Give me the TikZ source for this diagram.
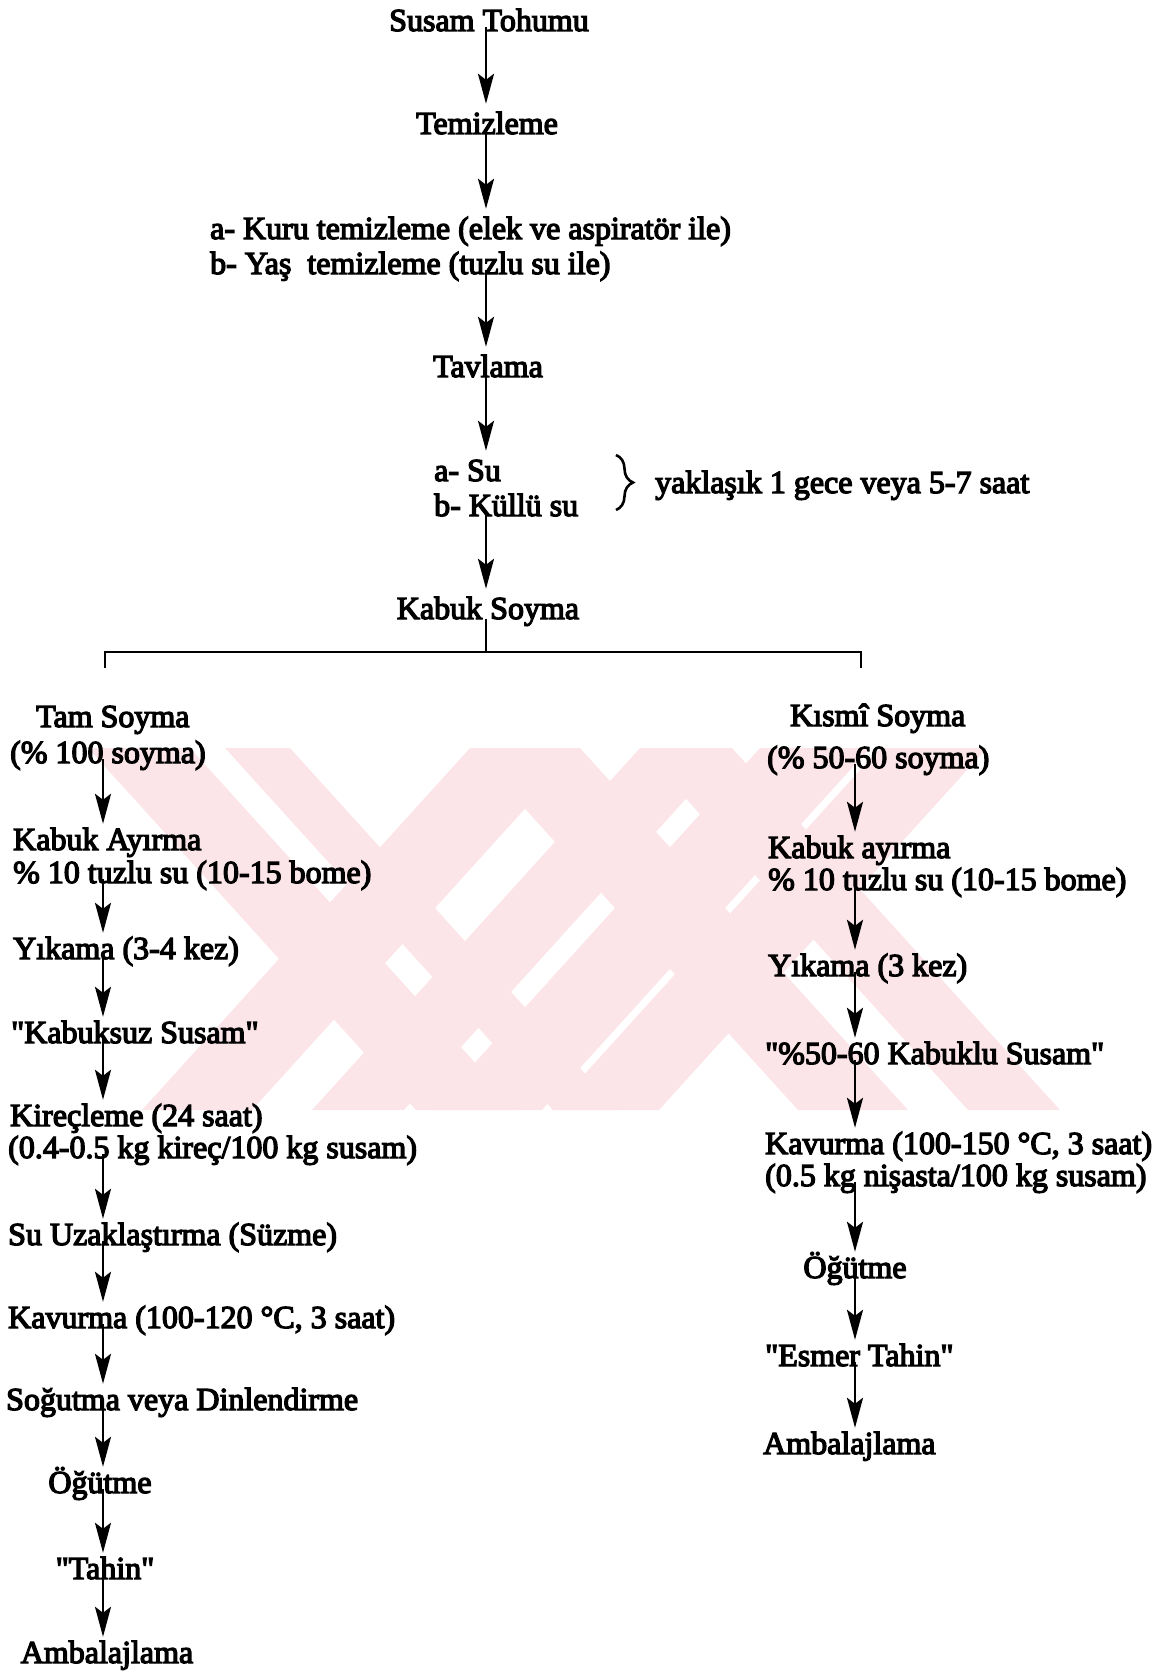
\documentclass[tikz,border=0pt]{standalone}
\usepackage{fontspec}
\setmainfont{Liberation Serif}[FakeBold=4, Ligatures=TeXOff]
\usetikzlibrary{arrows.meta,decorations.pathreplacing}
\definecolor{wm}{RGB}{252,229,233}
\begin{document}
\begin{tikzpicture}[x=1pt,y=-1pt,
  lbl/.style={inner sep=0pt, font=\fontsize{32}{38}\selectfont, text height=22pt, text depth=0pt},
  lw/.style={lbl, anchor=west},
  arr/.style={line width=2.6pt, -{Stealth[length=30pt,width=16pt,inset=6pt]}, shorten <=-4pt, shorten >=4pt},
  arrtop/.style={arr, shorten >=8pt},
  bar/.style={line width=2.6pt}]
\useasboundingbox (0,0) rectangle (1164,1672);
% watermark
\begin{scope}
\fill[wm] (88,748) -- (190,748) -- (518,1110) -- (416,1110) -- cycle;
\fill[wm] (225,748) -- (290,748) -- (618,1110) -- (553,1110) -- cycle;
\fill[wm] (470,748) -- (580,748) -- (908,1110) -- (798,1110) -- cycle;
\fill[wm] (640,748) -- (732,748) -- (1060,1110) -- (968,1110) -- cycle;
\fill[wm] (470,748) -- (580,748) -- (252,1110) -- (142,1110) -- cycle;
\fill[wm] (640,748) -- (732,748) -- (404,1110) -- (312,1110) -- cycle;
\fill[wm] (760,748) -- (870,748) -- (542,1110) -- (432,1110) -- cycle;
\fill[wm] (880,748) -- (987,748) -- (659,1110) -- (552,1110) -- cycle;
\end{scope}
% column x coordinates
\coordinate (CX) at (486,0);
\coordinate (LX) at (103,0);
\coordinate (RX) at (855,0);
% top part
\node[lbl] (st) at (489,20) {Susam Tohumu};
\node[lbl] (tz) at (487,123) {Temizleme};
\node[lw] (k1) at (210,228) {a- Kuru temizleme (elek ve aspiratör ile)};
\node[lw] (k2) at (210,263) {b- Yaş\ \ temizleme (tuzlu su ile)};
\node[lbl] (tv) at (488,366) {Tavlama};
\node[lw] (s1) at (434,470) {a- Su};
\node[lw] (s2) at (434,505) {b- Küllü su};
\node[lw] (yk) at (655,482) {yaklaşık 1 gece veya 5-7 saat};
\node[lbl] (ks) at (488,608) {Kabuk Soyma};
\coordinate (bt) at (616,455);
\coordinate (bb) at (616,510);
\draw[line width=2.6pt, decorate, decoration={brace, amplitude=17pt}] (bt) -- (bb);
% left column
\node[lw] (L1) at (36,716) {Tam Soyma};
\node[lw] (L2) at (10,752) {(\% 100 soyma)};
\node[lw] (L3) at (13,839) {Kabuk Ayırma};
\node[lw] (L4) at (13,872) {\% 10 tuzlu su (10-15 bome)};
\node[lw] (L5) at (13,948) {Yıkama (3-4 kez)};
\node[lw] (L6) at (11,1032) {"Kabuksuz Susam"};
\node[lw] (L7) at (10,1115) {Kireçleme (24 saat)};
\node[lw] (L8) at (8,1147) {(0.4-0.5 kg kireç/100 kg susam)};
\node[lw] (L9) at (8,1234) {Su Uzaklaştırma (Süzme)};
\node[lw] (L10) at (8,1317) {Kavurma (100-120 °C, 3 saat)};
\node[lw] (L11) at (6,1399) {Soğutma veya Dinlendirme};
\node[lbl] (L12) at (100,1482) {Öğütme};
\node[lbl] (L13) at (105,1568) {"Tahin"};
\node[lbl] (L14) at (107,1652) {Ambalajlama};
% right column
\node[lw] (R1) at (790,715) {Kısmî Soyma};
\node[lw] (R2) at (767,757) {(\% 50-60 soyma)};
\node[lw] (R3) at (768,847) {Kabuk ayırma};
\node[lw] (R4) at (768,879) {\% 10 tuzlu su (10-15 bome)};
\node[lw] (R5) at (768,965) {Yıkama (3 kez)};
\node[lw] (R6) at (765,1053) {"\%50-60 Kabuklu Susam"};
\node[lw] (R7) at (765,1143) {Kavurma (100-150 °C, 3 saat)};
\node[lw] (R8) at (765,1175) {(0.5 kg nişasta/100 kg susam)};
\node[lbl] (R9) at (855,1267) {Öğütme};
\node[lw] (R10) at (765,1355) {"Esmer Tahin"};
\node[lw] (R11) at (763,1443) {Ambalajlama};
% split bracket
\coordinate (bl) at (105,652);
\coordinate (br) at (861,652);
\coordinate (tl) at (105,668);
\coordinate (tr) at (861,668);
\draw[line width=2.4pt] (ks.south -| CX) -- (CX |- bl);
\draw[bar] (tl) -- (bl) -- (br) -- (tr);
% arrows
\foreach \a/\b in {st/tz, tz/k1, k2/tv, tv/s1, s2/ks}
  \draw[arrtop] (\a.south -| CX) -- (\b.north -| CX);
\foreach \a/\b in {L2/L3, L4/L5, L5/L6, L6/L7, L8/L9, L9/L10, L10/L11, L11/L12, L12/L13, L13/L14}
  \draw[arr] (\a.south -| LX) -- (\b.north -| LX);
\foreach \a/\b in {R2/R3, R4/R5, R5/R6, R6/R7, R8/R9, R9/R10, R10/R11}
  \draw[arr] (\a.south -| RX) -- (\b.north -| RX);
\end{tikzpicture}
\end{document}
